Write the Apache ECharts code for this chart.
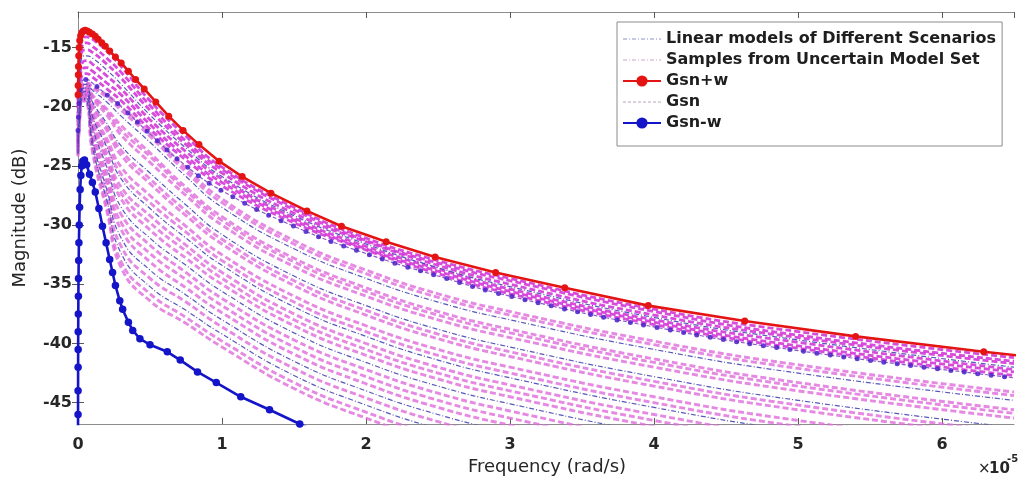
<!DOCTYPE html>
<html>
<head>
<meta charset="utf-8">
<title>Magnitude response</title>
<script src="https://cdn.jsdelivr.net/npm/echarts@6/dist/echarts.min.js"></script>
<style>
  html, body { margin: 0; padding: 0; background: #fff; }
  #chart { width: 1018px; height: 491px; }
</style>
</head>
<body>
<div id="chart"></div>
<script>
// Frequency grid (units of 1e-5 rad/s) shared by the model family curves
const freq = [0, 0.01, 0.03, 0.06, 0.1, 0.2, 0.3, 0.5, 0.75, 1, 1.5, 2, 2.5, 3, 4, 5, 6.5];

// Samples from the uncertain model set, upper band (dB)
const upperSamples = [
  [-19.4, -16.0, -14.3, -14.1, -14.3, -15.3, -16.6, -19.5, -22.5, -25.1, -28.5, -31.1, -33.0, -34.5, -37.1, -39.0, -41.2],
  [-19.8, -16.5, -14.8, -14.6, -14.9, -15.9, -17.1, -19.9, -22.9, -25.3, -28.7, -31.3, -33.2, -34.7, -37.3, -39.3, -41.5],
  [-20.1, -17.0, -15.3, -15.2, -15.4, -16.4, -17.6, -20.3, -23.2, -25.6, -29.0, -31.4, -33.4, -35.0, -37.6, -39.5, -41.7],
  [-20.9, -18.0, -16.3, -16.1, -16.4, -17.4, -18.5, -21.1, -23.8, -26.1, -29.4, -31.8, -33.7, -35.4, -38.0, -39.9, -42.2],
  [-21.3, -18.5, -16.8, -16.7, -17.0, -18.0, -19.0, -21.5, -24.2, -26.4, -29.6, -32.0, -33.9, -35.6, -38.2, -40.2, -42.4],
  [-21.6, -19.0, -17.3, -17.2, -17.5, -18.5, -19.5, -21.9, -24.5, -26.7, -29.8, -32.1, -34.1, -35.8, -38.4, -40.4, -42.7]
];

// Samples from the uncertain model set, lower band (dB)
const lowerSamples = [
  [-22.3, -20.0, -18.2, -18.0, -18.3, -19.0, -20.0, -22.2, -25.2, -27.8, -31.3, -33.8, -35.8, -37.3, -39.8, -41.8, -44.1],
  [-22.3, -20.0, -18.2, -18.0, -18.4, -19.2, -20.3, -22.5, -25.5, -28.1, -31.6, -34.1, -36.1, -37.6, -40.1, -42.1, -44.4],
  [-22.5, -20.2, -18.4, -18.2, -19.0, -20.2, -21.6, -23.9, -26.8, -29.3, -32.8, -35.3, -37.3, -38.8, -41.3, -43.3, -45.6],
  [-22.6, -20.2, -18.4, -18.2, -19.1, -20.4, -22.0, -24.2, -27.1, -29.6, -33.1, -35.6, -37.6, -39.1, -41.6, -43.6, -45.9],
  [-22.6, -20.3, -18.4, -18.3, -19.3, -20.7, -22.4, -24.7, -27.5, -30.0, -33.5, -36.0, -38.0, -39.5, -42.0, -44.0, -46.3],
  [-22.8, -20.4, -18.6, -18.4, -19.8, -21.7, -23.7, -26.1, -28.8, -31.2, -34.7, -37.2, -39.2, -40.7, -43.2, -45.2, -47.5],
  [-22.9, -20.5, -18.6, -18.5, -20.0, -22.0, -24.1, -26.5, -29.2, -31.6, -35.1, -37.6, -39.6, -41.1, -43.6, -45.6, -47.9],
  [-23.0, -20.6, -18.7, -18.6, -20.4, -22.7, -25.1, -27.5, -30.1, -32.5, -36.0, -38.5, -40.5, -42.0, -44.5, -46.5, -48.8],
  [-23.1, -20.6, -18.7, -18.7, -20.6, -23.1, -25.7, -28.1, -30.6, -33.0, -36.5, -39.0, -41.0, -42.5, -45.0, -47.0, -49.3],
  [-23.2, -20.7, -18.8, -18.8, -21.0, -23.9, -26.8, -29.2, -31.7, -34.0, -37.5, -40.0, -42.0, -43.5, -46.0, -48.0, -50.3],
  [-23.3, -20.8, -18.9, -18.9, -21.3, -24.3, -27.3, -29.8, -32.2, -34.5, -38.0, -40.5, -42.5, -44.0, -46.5, -48.5, -50.8],
  [-23.4, -20.9, -18.9, -18.9, -21.5, -24.6, -27.8, -30.4, -32.8, -35.0, -38.5, -41.0, -43.0, -44.5, -47.0, -49.0, -51.3],
  [-23.6, -21.0, -19.1, -19.1, -22.0, -25.6, -29.1, -31.7, -34.0, -36.2, -39.7, -42.2, -44.2, -45.7, -48.2, -50.2, -52.5],
  [-23.7, -21.1, -19.1, -19.2, -22.3, -26.1, -29.8, -32.4, -34.6, -36.8, -40.3, -42.8, -44.8, -46.3, -48.8, -50.8, -53.1],
  [-23.8, -21.2, -19.2, -19.2, -22.5, -26.5, -30.4, -33.1, -35.3, -37.4, -40.9, -43.4, -45.4, -46.9, -49.4, -51.4, -53.7],
  [-23.9, -21.3, -19.3, -19.4, -23.1, -27.5, -31.8, -34.5, -36.5, -38.6, -42.1, -44.6, -46.6, -48.1, -50.6, -52.6, -54.9],
  [-24.1, -21.4, -19.4, -19.5, -23.6, -28.4, -33.1, -35.8, -37.8, -39.8, -43.3, -45.8, -47.8, -49.3, -51.8, -53.8, -56.1],
  [-24.2, -21.5, -19.5, -19.6, -23.8, -28.8, -33.6, -36.4, -38.3, -40.3, -43.8, -46.3, -48.3, -49.8, -52.3, -54.3, -56.6]
];

// Linear models of the different operating scenarios (dB)
const linearModels = [
  [-20.5, -17.5, -15.8, -15.7, -15.9, -16.9, -18.1, -20.7, -23.5, -25.9, -29.2, -31.6, -33.6, -35.2, -37.8, -39.7, -42.0],
  [-22.4, -20.1, -18.3, -18.1, -18.6, -19.6, -20.8, -23.0, -25.9, -28.5, -32.0, -34.5, -36.5, -38.0, -40.5, -42.5, -44.8],
  [-22.8, -20.4, -18.5, -18.4, -19.6, -21.4, -23.3, -25.6, -28.3, -30.8, -34.3, -36.8, -38.8, -40.3, -42.8, -44.8, -47.1],
  [-23.1, -20.7, -18.8, -18.7, -20.8, -23.4, -26.1, -28.6, -31.1, -33.4, -36.9, -39.4, -41.4, -42.9, -45.4, -47.4, -49.7],
  [-23.5, -20.9, -19.0, -19.0, -21.7, -25.1, -28.5, -31.1, -33.4, -35.6, -39.1, -41.6, -43.6, -45.1, -47.6, -49.6, -51.9],
  [-23.9, -21.2, -19.3, -19.3, -22.8, -27.0, -31.1, -33.8, -35.9, -38.0, -41.5, -44.0, -46.0, -47.5, -50.0, -52.0, -54.3],
  [-24.0, -21.4, -19.4, -19.5, -23.3, -27.9, -32.4, -35.2, -37.2, -39.2, -42.7, -45.2, -47.2, -48.7, -51.2, -53.2, -55.5]
];

// Nominal model Gsn (dB)
const gsnMag = [-22.0, -19.5, -17.8, -17.7, -18.0, -19.0, -20.0, -22.3, -25.0, -27.1, -30.1, -32.4, -34.3, -36.0, -38.6, -40.6, -42.9];

// Upper bound Gsn+w
const gsnPlusFreq = [0.0005, 0.001, 0.002, 0.003, 0.005, 0.008, 0.012, 0.018, 0.026, 0.036, 0.05, 0.065, 0.08, 0.1, 0.12, 0.14, 0.165, 0.19, 0.22, 0.26, 0.30, 0.35, 0.40, 0.46, 0.54, 0.63, 0.73, 0.84, 0.98, 1.14, 1.34, 1.59, 1.83, 2.14, 2.48, 2.9, 3.38, 3.96, 4.63, 5.4, 6.29, 7.3];
const gsnPlusMag = [-19.0, -18.2, -17.3, -16.6, -15.7, -15.0, -14.4, -14.0, -13.75, -13.6, -13.55, -13.6, -13.7, -13.85, -14.05, -14.3, -14.6, -14.9, -15.3, -15.8, -16.3, -17.0, -17.7, -18.5, -19.6, -20.8, -22.0, -23.2, -24.6, -25.9, -27.3, -28.8, -30.1, -31.4, -32.7, -34.0, -35.3, -36.8, -38.1, -39.4, -40.7, -42.0];

// Lower bound Gsn-w
const gsnMinusFreq = [0, 0.0003, 0.0005, 0.0008, 0.0011, 0.0015, 0.002, 0.0027, 0.0036, 0.0048, 0.0064, 0.0085, 0.011, 0.015, 0.02, 0.026, 0.033, 0.045, 0.06, 0.08, 0.1, 0.12, 0.145, 0.17, 0.195, 0.22, 0.24, 0.26, 0.29, 0.31, 0.35, 0.38, 0.43, 0.5, 0.62, 0.71, 0.83, 0.96, 1.13, 1.33, 1.54, 1.7];
const gsnMinusMag = [-60, -46.0, -44.0, -42.0, -40.5, -39.0, -37.5, -36.0, -34.5, -33.0, -31.5, -30.0, -28.5, -27.0, -25.8, -25.0, -24.6, -24.5, -24.9, -25.7, -26.4, -27.2, -28.6, -30.1, -31.5, -32.9, -34.0, -35.1, -36.4, -37.1, -38.2, -38.9, -39.6, -40.1, -40.7, -41.4, -42.4, -43.3, -44.5, -45.6, -46.8, -47.7];

// Axis ticks and ranges
const yTicks = [-45, -40, -35, -30, -25, -20, -15];
const yRange = [-46.8, -12];
const xRange = [0, 6.5];

const NAME_LIN = 'Linear models of Different Scenarios';
const NAME_SMP = 'Samples from Uncertain Model Set';
const FONT = '"DejaVu Sans", Verdana, sans-serif';

const zip = (xs, ys) => xs.map((x, i) => [x, ys[i]]);
const SMOOTH = 0.5;

const series = [];
upperSamples.forEach(v => series.push({
  type: 'line', name: NAME_SMP, data: zip(freq, v), symbol: 'none',
  smooth: SMOOTH, z: 2,
  itemStyle: { color: '#d338d6' },
  lineStyle: { color: '#d338d6', width: 2.8, type: [6, 3], opacity: 0.9 }
}));
lowerSamples.forEach(v => series.push({
  type: 'line', name: NAME_SMP, data: zip(freq, v), symbol: 'none',
  smooth: SMOOTH, z: 2,
  itemStyle: { color: '#de6cdb' },
  lineStyle: { color: '#de6cdb', width: 2.9, type: [6, 3], opacity: 0.8 }
}));
linearModels.forEach(v => series.push({
  type: 'line', name: NAME_LIN, data: zip(freq, v), symbol: 'none',
  smooth: SMOOTH, z: 3,
  itemStyle: { color: '#4646b4' },
  lineStyle: { color: '#4646b4', width: 1.2, type: [5, 2, 1, 2], opacity: 0.9 }
}));
// Nominal model: thin dashed trace plus dotted markers along it
series.push({
  type: 'line', name: 'Gsn', data: zip(freq, gsnMag), symbol: 'none',
  smooth: SMOOTH, z: 4,
  itemStyle: { color: '#8a5ac8' },
  lineStyle: { color: '#8a5ac8', width: 1.2, type: [4, 2] }
});
series.push({
  type: 'line', name: 'gsn-dots', data: zip(freq, gsnMag), symbol: 'none',
  smooth: SMOOTH, z: 4,
  lineStyle: { color: '#4a1ec8', width: 5, type: [0, 13.5], cap: 'round', opacity: 0.85 }
});
series.push({
  type: 'line', name: 'Gsn+w', data: zip(gsnPlusFreq, gsnPlusMag),
  symbol: 'circle', symbolSize: 7, showAllSymbol: true, z: 6,
  itemStyle: { color: '#e41414' },
  lineStyle: { color: '#e41414', width: 2.6 }
});
series.push({
  type: 'line', name: 'Gsn-w', data: zip(gsnMinusFreq, gsnMinusMag),
  symbol: 'circle', symbolSize: 7.5, showAllSymbol: true, z: 6,
  itemStyle: { color: '#1414c8' },
  lineStyle: { color: '#1414c8', width: 2.6 }
});

const tickStyle = { show: true, inside: true, length: 6, lineStyle: { color: '#5a5a5a', width: 1 } };
const lineAx = { show: true, lineStyle: { color: '#8c8c8c', width: 1 } };

const option = {
  animation: false,
  backgroundColor: '#fff',
  grid: { left: 78, right: 4, top: 12, bottom: 67, outerBoundsMode: 'none' },
  xAxis: [
    {
      type: 'value', min: xRange[0], max: xRange[1], interval: 1, position: 'bottom',
      axisLine: lineAx, axisTick: tickStyle, splitLine: { show: false },
      axisLabel: { color: '#262626', fontFamily: FONT, fontSize: 16, fontWeight: 'bold', margin: 13, showMaxLabel: false }
    },
    {
      type: 'value', min: xRange[0], max: xRange[1], interval: 1, position: 'top',
      axisLine: lineAx, axisTick: tickStyle, splitLine: { show: false }, axisLabel: { show: false }
    }
  ],
  yAxis: [
    {
      type: 'value', min: yRange[0], max: yRange[1], position: 'left',
      axisLine: lineAx, splitLine: { show: false },
      axisTick: Object.assign({}, tickStyle, { customValues: yTicks }),
      axisLabel: { customValues: yTicks, color: '#262626', fontFamily: FONT, fontSize: 16, fontWeight: 'bold', margin: 6 }
    },
    {
      type: 'value', min: yRange[0], max: yRange[1], position: 'right',
      axisLine: lineAx, splitLine: { show: false },
      axisTick: Object.assign({}, tickStyle, { customValues: yTicks }),
      axisLabel: { show: false }
    }
  ],
  legend: {
    orient: 'vertical', left: 617, top: 22,
    padding: [8, 6, 14, 5], itemGap: 3, itemWidth: 38, itemHeight: 14,
    backgroundColor: '#fff', borderColor: '#8c8c8c', borderWidth: 1,
    selectedMode: false,
    textStyle: { fontFamily: FONT, fontWeight: 'bold', fontSize: 16, color: '#1e1e1e', lineHeight: 18 },
    data: [
      { name: NAME_LIN, itemStyle: { opacity: 0 }, lineStyle: { color: '#8484c8', width: 1.2, type: [4, 2, 1, 2] } },
      { name: NAME_SMP, itemStyle: { opacity: 0 }, lineStyle: { color: '#c69ac6', width: 1.2, type: [4, 2, 1, 2] } },
      { name: 'Gsn+w' },
      { name: 'Gsn', itemStyle: { opacity: 0 }, lineStyle: { color: '#b8a8b8', width: 1.2, type: [3, 2] } },
      { name: 'Gsn-w' }
    ]
  },
  graphic: [
    {
      type: 'text', x: 20, y: 218, rotation: Math.PI / 2,
      style: { text: 'Magnitude (dB)', fontFamily: FONT, fontSize: 18, fill: '#262626', align: 'center', verticalAlign: 'middle' }
    },
    {
      type: 'text', x: 547, y: 467,
      style: { text: 'Frequency (rad/s)', fontFamily: FONT, fontSize: 18, fill: '#262626', align: 'center', verticalAlign: 'middle' }
    },
    {
      type: 'text', x: 978, y: 469,
      style: { text: '×', fontFamily: FONT, fontSize: 15, fill: '#262626', align: 'left', verticalAlign: 'middle' }
    },
    {
      type: 'text', x: 989, y: 469,
      style: { text: '10', fontFamily: FONT, fontSize: 15, fontWeight: 'bold', fill: '#262626', align: 'left', verticalAlign: 'middle' }
    },
    {
      type: 'text', x: 1007, y: 459,
      style: { text: '-5', fontFamily: FONT, fontSize: 10, fontWeight: 'bold', fill: '#262626', align: 'left', verticalAlign: 'middle' }
    }
  ],
  series: series
};

const chart = echarts.init(document.getElementById('chart'), null, { renderer: 'canvas' });
chart.setOption(option);
</script>
</body>
</html>
